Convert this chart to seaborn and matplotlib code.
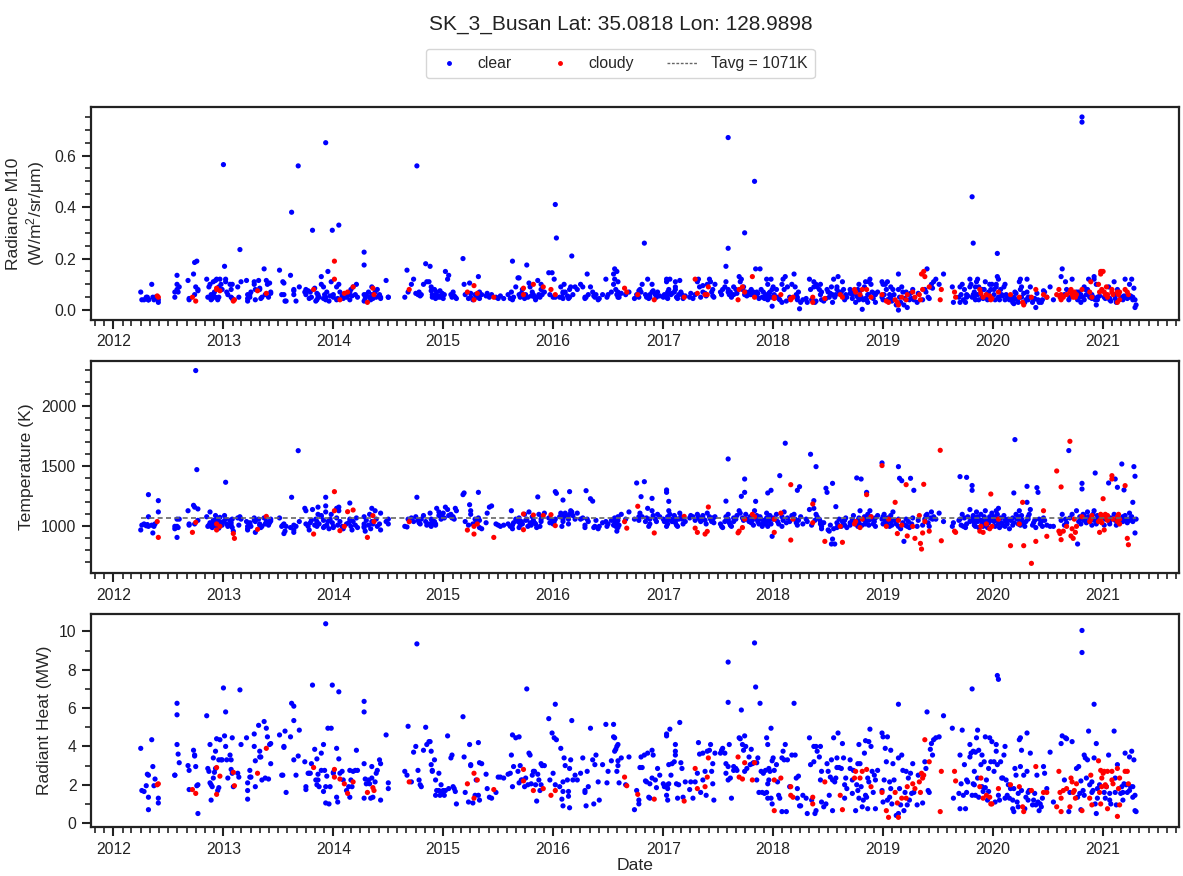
import numpy as np
import pandas as pd
import matplotlib
matplotlib.use("Agg")
import matplotlib.pyplot as plt
import matplotlib.dates as mdates
from matplotlib.ticker import MultipleLocator
from matplotlib.lines import Line2D
import seaborn as sns

# ---------------- data: (decimal year, radiance M10, temperature K, radiant heat MW) ----------------
clear_2012 = [
    (2012.25,.07,970,3.9),(2012.26,.04,1010,1.7),(2012.28,.04,1020,1.65),(2012.30,.05,1005,1.95),(2012.31,.05,1015,2.55),
    (2012.32,.04,1264,2.5),(2012.32,.04,1000,1.35),(2012.32,.04,1080,0.7),(2012.35,.10,1010,4.35),(2012.36,.05,945,2.95),
    (2012.37,.04,1000,1.95),(2012.38,.05,1020,2.3),(2012.41,.03,1214,1.3),(2012.41,.04,1120,1.05),
    (2012.56,.05,1000,2.5),(2012.56,.07,980,2.5),(2012.58,.08,908,4.1),(2012.58,.135,1060,6.25),(2012.58,.10,1000,5.65),
    (2012.59,.07,990,3.6),(2012.60,.09,1060,3.15),(2012.68,.115,1130,3.0),(2012.69,.045,1020,2.75),(2012.69,.04,1010,1.75),
    (2012.73,.14,1175,3.8),(2012.74,.185,1160,3.55),(2012.74,.06,1020,3.5),(2012.75,.09,2297,2.95),(2012.76,.19,1472,1.95),
    (2012.77,.08,1145,2.0),(2012.77,.075,1050,0.5),
    (2012.85,.12,1080,5.6),(2012.86,.05,1000,2.85),(2012.87,.09,1010,2.7),(2012.88,.10,1120,4.1),(2012.88,.05,1030,2.1),
    (2012.89,.04,1000,1.2),(2012.89,.06,1015,2.0),(2012.90,.045,990,1.9),(2012.91,.11,1050,3.4),(2012.91,.06,1020,2.35),
    (2012.92,.07,1005,2.65),(2012.93,.115,1090,3.75),(2012.93,.05,1025,2.85),(2012.94,.12,1060,4.4),(2012.95,.04,1000,1.7),
    (2012.96,.05,985,1.85),(2012.96,.09,1040,3.3),(2012.97,.12,1075,4.35),(2012.98,.10,1030,3.3),(2012.99,.08,1010,3.3),
]
cloudy_2012 = [(2012.40,.055,1040,2.0),(2012.41,.05,908,2.05),(2012.72,.05,950,1.75),(2012.75,.035,1033,1.55),
               (2012.94,.085,970,1.5),(2012.94,.08,1020,2.9),(2012.97,.075,1000,2.45)]

clear_2013 = [
    (2013.00,.565,1040,7.05),(2013.01,.17,1090,4.55),(2013.02,.12,1367,4.0),(2013.02,.11,1060,5.8),(2013.03,.07,1020,3.3),
    (2013.04,.06,1000,2.35),(2013.06,.10,1050,3.55),(2013.07,.08,1030,3.3),(2013.07,.05,1010,2.8),(2013.08,.045,990,2.6),
    (2013.08,.10,1060,4.45),(2013.09,.04,960,1.9),(2013.13,.09,1070,2.6),(2013.14,.05,1010,2.4),(2013.15,.235,1080,6.95),
    (2013.16,.11,1060,4.1),(2013.21,.115,1040,4.45),(2013.22,.035,980,1.25),(2013.22,.06,1000,2.1),(2013.22,.045,970,1.7),
    (2013.24,.06,1020,2.4),(2013.24,.05,1030,2.75),(2013.25,.07,1000,2.4),(2013.28,.11,1050,4.0),(2013.28,.10,1070,4.65),
    (2013.29,.08,1040,3.25),(2013.29,.04,950,1.9),(2013.32,.115,1060,5.1),(2013.33,.085,1020,3.75),(2013.33,.08,1010,3.45),
    (2013.34,.045,990,3.45),(2013.35,.05,1000,2.25),(2013.37,.16,1070,5.3),(2013.38,.06,1020,2.35),(2013.39,.115,1040,4.95),
    (2013.40,.10,1035,4.5),(2013.41,.05,1010,2.3),(2013.42,.105,1030,4.1),(2013.43,.065,1045,3.1),(2013.43,.07,1060,4.15),
    (2013.51,.155,1070,4.6),(2013.53,.06,1000,2.5),(2013.54,.11,1010,2.5),(2013.55,.105,1020,4.0),(2013.55,.06,940,3.95),
    (2013.56,.035,960,4.8),(2013.57,.035,1000,1.6),(2013.61,.135,990,4.5),(2013.62,.38,1242,6.25),(2013.64,.075,970,6.1),
    (2013.64,.08,1010,5.35),(2013.64,.06,950,3.3),(2013.66,.035,1000,2.5),(2013.68,.56,1630,3.5),(2013.69,.09,1040,4.85),
    (2013.74,.07,1150,3.2),(2013.75,.08,1130,1.9),(2013.75,.06,1020,1.75),(2013.77,.075,1000,2.6),(2013.78,.045,970,2.6),
    (2013.79,.07,1030,2.6),(2013.80,.05,1050,3.1),(2013.81,.31,1140,7.2),(2013.83,.085,1010,3.85),(2013.84,.035,1060,2.25),
    (2013.85,.065,1000,3.35),(2013.85,.04,1040,2.0),(2013.86,.06,1100,2.55),(2013.86,.05,1160,2.25),(2013.87,.05,1020,1.9),
    (2013.89,.10,1080,2.75),(2013.89,.13,1090,3.65),(2013.91,.045,990,1.65),(2013.91,.09,1050,4.1),(2013.92,.06,1000,2.75),
    (2013.93,.05,1242,1.9),(2013.93,.65,1170,10.4),(2013.93,.04,1120,1.05),(2013.94,.07,1010,2.45),(2013.95,.15,1040,4.95),
    (2013.96,.035,980,1.0),(2013.97,.055,1060,1.9),(2013.98,.11,1100,4.95),(2013.99,.31,1030,7.2),
]
cloudy_2013 = [(2013.09,.035,940,2.65),(2013.10,.04,900,1.95),(2013.31,.075,975,2.6),(2013.39,.065,1083,3.9),
               (2013.82,.08,936,2.9)]

clear_2014 = [
    (2014.00,.06,1000,2.6),(2014.00,.05,990,2.65),(2014.03,.09,1070,3.9),(2014.03,.04,1150,1.35),(2014.04,.045,1010,1.1),
    (2014.05,.33,1160,6.85),(2014.05,.10,1130,3.35),(2014.06,.07,1040,2.6),(2014.08,.055,1000,2.7),(2014.09,.045,980,2.25),
    (2014.12,.05,1020,1.7),(2014.14,.06,1030,1.9),(2014.15,.04,1194,1.35),(2014.15,.07,1060,2.75),(2014.16,.08,1000,2.25),
    (2014.17,.055,970,1.9),(2014.18,.09,1040,2.7),(2014.20,.06,1010,2.75),(2014.21,.10,1070,3.8),(2014.22,.05,990,2.75),
    (2014.28,.225,1080,6.35),(2014.28,.175,1020,5.8),(2014.28,.06,1000,3.1),(2014.28,.035,990,1.3),(2014.29,.045,960,2.3),
    (2014.30,.06,1050,2.05),(2014.32,.07,1010,2.25),(2014.33,.05,1100,2.05),(2014.34,.04,980,1.3),(2014.35,.09,1150,2.95),
    (2014.35,.06,1040,2.35),(2014.36,.045,1020,1.35),(2014.38,.07,1130,2.15),(2014.39,.05,1060,2.6),(2014.40,.08,1000,2.75),
    (2014.42,.06,1020,3.3),(2014.43,.045,970,3.1),(2014.43,.05,1110,1.2),(2014.48,.115,1040,4.6),(2014.50,.05,1020,2.1),
    (2014.50,.05,1060,1.8),
    (2014.65,.05,1000,2.7),(2014.67,.155,995,2.5),(2014.68,.07,1060,5.05),(2014.71,.10,1070,2.15),(2014.73,.12,1040,3.7),
    (2014.75,.065,1080,4.0),(2014.76,.56,1242,9.35),(2014.77,.06,1050,2.75),(2014.78,.07,1030,2.25),(2014.79,.055,1020,2.0),
    (2014.80,.06,1060,1.9),(2014.82,.10,1090,3.8),(2014.84,.18,1040,5.0),(2014.85,.11,1010,4.1),(2014.87,.11,1020,4.25),
    (2014.88,.17,1110,4.25),(2014.89,.09,1060,3.75),(2014.89,.075,1000,3.05),(2014.90,.06,1030,2.7),(2014.90,.05,1050,2.75),
    (2014.92,.08,1040,3.3),(2014.93,.045,1010,1.45),(2014.93,.06,1020,2.25),(2014.94,.07,1150,1.7),(2014.96,.05,1090,1.7),
    (2014.96,.055,1120,2.6),(2014.97,.075,1100,1.45),(2014.98,.05,1060,2.0),(2014.99,.065,1080,1.65),
]
cloudy_2014 = [(2014.01,.12,1130,2.4),(2014.01,.19,1289,2.8),(2014.06,.04,964,2.3),(2014.10,.065,1000,2.05),
               (2014.13,.07,1122,1.55),(2014.18,.09,1136,2.15),(2014.31,.03,908,1.6),(2014.36,.085,1089,1.85),
               (2014.37,.06,1040,1.7),(2014.69,.08,1039,2.15)]

clear_2015 = [
    (2015.00,.045,1110,1.7),(2015.01,.06,1070,1.45),(2015.02,.15,1160,1.7),(2015.04,.12,1140,4.55),(2015.05,.135,1090,1.8),
    (2015.07,.06,1100,3.4),(2015.08,.05,1070,3.55),(2015.09,.07,1080,1.9),(2015.10,.055,1060,1.8),(2015.11,.05,1150,1.65),
    (2015.12,.045,1130,1.0),(2015.18,.20,1264,5.55),(2015.19,.10,1278,3.45),(2015.20,.06,1040,1.6),(2015.23,.045,1010,1.1),
    (2015.24,.105,1180,4.1),(2015.25,.065,1130,3.05),(2015.25,.05,1100,3.0),(2015.27,.04,1020,1.05),(2015.29,.06,1060,1.45),
    (2015.30,.05,1040,2.25),(2015.32,.055,1283,1.45),(2015.32,.13,1070,4.2),(2015.33,.045,990,1.2),(2015.33,.07,1050,3.15),
    (2015.35,.06,980,3.1),(2015.39,.055,1030,2.55),(2015.40,.065,1110,1.8),(2015.42,.05,1160,1.35),(2015.44,.06,1170,1.3),
    (2015.48,.05,1020,1.6),(2015.50,.045,1010,2.4),(2015.52,.055,1000,2.4),(2015.55,.045,1010,2.35),
    (2015.59,.06,1020,2.55),(2015.61,.045,1000,2.6),(2015.62,.07,1130,3.55),(2015.63,.19,980,4.6),(2015.63,.04,1010,1.9),
    (2015.64,.05,1030,2.95),(2015.66,.09,1060,4.45),(2015.68,.125,1040,2.7),(2015.69,.125,990,4.5),(2015.69,.06,1070,2.1),
    (2015.70,.05,1010,3.0),(2015.71,.065,1040,2.25),(2015.72,.08,1020,2.25),(2015.74,.045,1100,1.9),(2015.75,.06,1050,2.35),
    (2015.76,.175,1060,7.0),(2015.77,.05,1000,2.0),(2015.78,.105,1120,3.65),(2015.79,.09,1030,3.55),(2015.80,.055,1010,2.05),
    (2015.81,.07,1080,2.5),(2015.82,.06,1050,2.7),(2015.83,.05,1030,2.7),(2015.84,.04,1020,2.0),(2015.85,.05,990,1.15),
    (2015.86,.115,1245,2.55),(2015.87,.06,1100,2.25),(2015.88,.05,1000,1.7),(2015.89,.08,1060,2.0),(2015.89,.10,1040,3.1),
    (2015.90,.06,1080,3.0),(2015.92,.07,1110,3.0),(2015.96,.145,1070,5.45),(2015.97,.06,1030,2.25),(2015.99,.145,1050,4.7),
]
cloudy_2015 = [(2015.22,.07,969,2.05),(2015.28,.095,1000,2.6),(2015.28,.04,936,1.3),(2015.31,.065,1020,2.25),
               (2015.46,.05,908,1.75),(2015.73,.085,972,2.8),(2015.73,.06,1103,2.2),(2015.82,.10,1094,1.7),
               (2015.91,.09,1090,1.8),(2015.98,.08,1097,1.45)]

clear_2016 = [
    (2016.00,.05,1020,2.6),(2016.01,.12,1040,4.45),(2016.02,.05,1060,2.0),(2016.02,.41,1289,6.2),(2016.03,.28,1275,4.35),
    (2016.06,.05,1080,1.9),(2016.07,.09,1110,3.9),(2016.08,.05,1000,1.25),(2016.09,.065,1219,1.65),(2016.09,.045,1040,0.9),
    (2016.09,.07,1060,2.15),(2016.10,.10,1090,3.4),(2016.11,.07,1110,3.0),(2016.13,.055,1080,2.25),(2016.14,.05,1020,1.65),
    (2016.14,.045,1060,1.4),(2016.15,.05,1100,0.8),(2016.15,.08,1289,2.85),(2016.16,.09,1130,3.3),(2016.17,.21,1120,5.35),
    (2016.18,.06,1090,2.25),(2016.20,.09,1060,2.5),(2016.22,.08,1110,2.25),(2016.25,.10,1060,2.6),(2016.27,.09,1070,3.4),
    (2016.29,.05,990,1.7),(2016.29,.045,1010,1.6),(2016.30,.05,1297,0.9),(2016.31,.14,1060,2.7),(2016.32,.06,1040,1.9),
    (2016.34,.09,1230,4.95),(2016.36,.07,1210,3.3),(2016.37,.055,990,1.0),(2016.38,.05,1000,3.05),(2016.39,.06,1050,3.55),
    (2016.41,.04,980,2.15),(2016.42,.045,1000,1.2),
    (2016.45,.06,1030,3.05),(2016.48,.12,1040,5.15),(2016.49,.05,1000,2.1),(2016.50,.06,1020,2.7),(2016.53,.07,1050,3.25),
    (2016.55,.10,1060,5.15),(2016.55,.14,1010,4.5),(2016.56,.16,1040,4.45),(2016.56,.12,1070,3.75),(2016.57,.08,1000,3.85),
    (2016.58,.15,960,4.0),(2016.58,.06,1030,2.7),(2016.59,.05,990,3.0),(2016.59,.11,1050,4.1),(2016.59,.07,1080,3.25),
    (2016.60,.05,1010,2.1),(2016.62,.065,1100,3.4),(2016.66,.06,1060,2.0),(2016.69,.07,1120,3.45),(2016.74,.045,1060,0.7),
    (2016.76,.06,1361,1.7),(2016.78,.05,1080,1.0),(2016.78,.075,1050,1.2),(2016.79,.08,1110,2.9),(2016.80,.07,1247,3.45),
    (2016.81,.10,1080,2.9),(2016.83,.26,1372,3.55),(2016.84,.06,1040,2.2),(2016.85,.05,1070,2.15),(2016.86,.12,1150,3.65),
    (2016.87,.045,1000,1.35),(2016.88,.05,1060,1.3),(2016.88,.06,1020,2.05),(2016.90,.07,1233,2.35),(2016.90,.10,1130,3.8),
    (2016.91,.075,1090,3.55),(2016.93,.06,1060,2.25),(2016.94,.05,1040,1.85),(2016.95,.07,1100,2.85),(2016.97,.055,1080,2.5),
]
cloudy_2016 = [(2016.02,.06,1006,1.7),(2016.65,.085,1039,2.4),(2016.67,.07,985,1.95),(2016.77,.06,1167,1.5),
               (2016.92,.04,945,1.25)]

clear_2017 = [
    (2017.00,.05,1060,2.05),(2017.01,.06,1040,1.9),(2017.03,.11,1283,4.55),(2017.03,.12,1303,4.65),(2017.03,.05,1000,1.45),
    (2017.04,.045,1020,1.2),(2017.04,.06,1080,1.8),(2017.04,.07,1050,2.0),(2017.05,.065,1208,2.05),(2017.05,.08,1130,3.05),
    (2017.06,.12,1100,4.9),(2017.07,.06,1060,2.5),(2017.08,.065,1040,3.1),(2017.10,.07,1090,3.2),(2017.11,.11,1070,4.1),
    (2017.11,.09,1050,3.75),(2017.11,.08,1030,3.55),(2017.12,.05,1010,2.05),(2017.13,.045,1000,1.3),(2017.14,.06,1060,2.0),
    (2017.15,.115,1110,5.25),(2017.16,.07,1080,3.15),(2017.17,.06,1060,2.85),(2017.18,.045,1020,1.35),(2017.20,.055,1040,2.15),
    (2017.24,.05,1070,1.75),(2017.25,.065,1090,2.15),(2017.27,.045,1080,1.3),(2017.29,.06,1050,2.15),(2017.31,.11,1100,2.6),
    (2017.32,.12,1080,4.2),(2017.33,.09,1060,3.6),(2017.34,.05,1040,1.6),(2017.36,.07,1070,2.25),(2017.36,.095,1090,3.65),
    (2017.38,.065,1050,2.7),(2017.39,.055,1020,1.45),(2017.40,.10,1110,3.75),(2017.42,.12,1080,3.8),(2017.43,.11,1060,4.1),
    (2017.44,.07,1040,2.7),(2017.45,.08,1070,3.1),(2017.45,.055,1060,2.05),(2017.46,.05,1030,1.2),(2017.47,.10,1080,3.65),
    (2017.52,.07,1020,3.65),(2017.53,.06,1000,3.8),(2017.54,.08,990,3.9),(2017.56,.09,1040,3.65),(2017.57,.17,1080,3.1),
    (2017.57,.11,1210,2.6),(2017.59,.07,1060,2.25),(2017.59,.67,1561,8.4),(2017.59,.24,1100,6.3),(2017.59,.08,1050,2.95),
    (2017.60,.06,1030,4.1),(2017.61,.07,1010,2.35),(2017.62,.05,1000,1.3),(2017.64,.09,1070,2.95),(2017.64,.06,1040,2.75),
    (2017.66,.08,1060,2.85),(2017.67,.065,1090,2.75),(2017.69,.13,1130,4.45),(2017.70,.11,1110,4.4),(2017.71,.12,1250,5.9),
    (2017.72,.08,1070,4.1),(2017.73,.09,1050,3.8),(2017.74,.30,1394,4.55),(2017.74,.06,1283,2.7),(2017.75,.07,1100,4.0),
    (2017.76,.055,1060,2.85),(2017.78,.07,1040,3.45),(2017.79,.06,1080,3.05),(2017.80,.08,1030,3.85),(2017.81,.06,1050,3.1),
    (2017.82,.07,1010,3.15),(2017.83,.50,1130,9.4),(2017.84,.16,1208,7.1),(2017.85,.06,1060,2.25),(2017.85,.07,1090,3.15),
    (2017.86,.065,1040,3.4),(2017.87,.045,1020,1.6),(2017.88,.16,1080,6.25),(2017.89,.08,1060,2.7),(2017.90,.05,1000,1.6),
    (2017.91,.07,1030,2.6),(2017.92,.045,1050,1.55),(2017.93,.06,1020,2.75),(2017.94,.05,1070,1.6),(2017.94,.12,1110,4.45),
    (2017.95,.10,1278,4.1),(2017.95,.05,1040,2.05),(2017.95,.04,1000,1.3),(2017.96,.065,1080,2.85),(2017.96,.06,1050,2.25),
    (2017.97,.07,1090,2.7),(2017.98,.12,1300,4.95),(2017.98,.05,1020,1.3),(2017.99,.08,1060,3.25),(2017.99,.015,917,1.0),
]
cloudy_2017 = [(2017.19,.05,1083,1.15),(2017.29,.12,985,2.85),(2017.31,.065,950,1.8),(2017.38,.06,936,1.9),
               (2017.40,.06,958,2.4),(2017.41,.09,1161,3.4),(2017.68,.04,946,3.45),(2017.69,.08,960,2.4),
               (2017.72,.09,990,2.3),(2017.74,.07,1060,3.15),(2017.81,.13,1100,2.25),(2017.83,.05,1080,3.15)]

clear_2018 = [
    (2018.00,.09,1070,3.4),(2018.01,.06,1060,2.75),(2018.03,.08,1100,3.05),(2018.04,.05,1040,2.15),(2018.05,.045,1020,1.45),
    (2018.06,.04,1422,1.3),(2018.08,.03,1000,0.6),(2018.08,.10,1080,3.4),(2018.09,.12,1050,3.75),(2018.10,.08,1120,3.3),
    (2018.11,.13,1692,4.1),(2018.12,.035,1030,0.6),(2018.13,.09,1070,3.3),(2018.15,.05,1040,1.9),(2018.17,.10,1090,3.55),
    (2018.19,.14,1100,6.25),(2018.20,.09,1060,3.55),(2018.21,.06,1030,2.35),(2018.22,.04,1010,1.3),(2018.22,.05,1300,1.8),
    (2018.23,.07,1050,2.45),(2018.24,.005,1330,0.9),(2018.25,.03,1080,0.9),(2018.27,.04,1020,1.45),(2018.30,.045,1060,1.3),
    (2018.31,.03,1040,0.5),(2018.33,.12,1140,4.45),(2018.34,.08,1600,3.05),(2018.35,.04,1010,1.2),(2018.37,.09,1214,3.2),
    (2018.37,.11,1150,4.0),(2018.38,.03,1050,0.5),(2018.39,.035,1497,0.65),(2018.39,.10,1100,4.0),(2018.40,.09,1080,3.75),
    (2018.42,.08,1060,3.45),(2018.43,.10,1040,4.0),(2018.43,.06,1020,2.25),(2018.44,.07,1000,2.7),(2018.44,.04,980,1.1),
    (2018.46,.035,1030,0.85),(2018.48,.045,1317,1.0),(2018.49,.08,1283,3.1),(2018.50,.07,970,2.7),(2018.51,.05,960,1.45),
    (2018.52,.065,1010,2.4),(2018.53,.09,853,3.3),(2018.54,.03,1358,0.65),(2018.54,.06,894,2.25),(2018.55,.12,980,4.45),
    (2018.56,.05,853,2.15),(2018.57,.06,1164,2.35),(2018.58,.08,990,2.9),(2018.58,.09,1030,3.4),(2018.59,.13,1010,4.7),
    (2018.60,.07,1060,2.9),(2018.62,.07,1000,2.85),(2018.63,.11,1040,4.15),(2018.64,.08,1020,3.4),(2018.65,.05,1050,2.0),
    (2018.65,.04,1010,1.3),(2018.66,.06,1070,2.35),(2018.67,.05,990,1.8),(2018.70,.08,1030,3.3),(2018.70,.065,1010,2.85),
    (2018.72,.06,1060,2.25),(2018.72,.045,1040,1.55),(2018.73,.07,1090,2.75),(2018.75,.03,1020,0.65),(2018.76,.055,1403,2.0),
    (2018.77,.08,1050,3.1),(2018.77,.05,1000,1.7),(2018.78,.10,1030,4.1),(2018.78,.04,1070,1.3),(2018.79,.075,1130,3.1),
    (2018.80,.05,1394,1.9),(2018.81,.003,1010,0.85),(2018.82,.04,1060,1.2),(2018.83,.09,1080,3.65),(2018.84,.11,1040,4.3),
    (2018.84,.045,1020,1.45),(2018.85,.04,1283,1.35),(2018.86,.03,1060,0.75),(2018.86,.06,1100,2.35),(2018.87,.11,1050,4.25),
    (2018.87,.06,1010,2.15),(2018.88,.12,1130,4.9),(2018.89,.10,1080,4.0),(2018.90,.07,1060,2.7),(2018.91,.045,1020,1.6),
    (2018.92,.065,1040,2.5),(2018.93,.03,1000,0.75),(2018.93,.06,1070,2.25),(2018.95,.07,1090,2.75),(2018.99,.05,1060,1.7),
    (2018.99,.11,1528,4.7),
]
cloudy_2018 = [(2018.01,.05,950,2.25),(2018.01,.045,1060,0.65),(2018.07,.06,1110,2.35),(2018.16,.04,886,1.45),
               (2018.16,.045,1347,1.9),(2018.18,.05,1060,1.35),(2018.36,.03,1186,1.0),(2018.36,.05,1030,1.35),
               (2018.47,.045,875,2.15),(2018.61,.06,1000,1.45),(2018.63,.05,867,0.7),(2018.74,.08,1020,2.35),
               (2018.75,.07,1040,2.7),(2018.79,.06,990,2.35),(2018.81,.08,1060,2.7),(2018.85,.08,1264,2.8),
               (2018.89,.05,1080,1.9),(2018.99,.06,1506,1.6)]

clear_2019 = [
    (2019.00,.10,1080,4.5),(2019.00,.04,1020,1.1),(2019.01,.06,1100,2.25),(2019.02,.10,1050,3.9),(2019.03,.08,1030,3.2),
    (2019.04,.11,1070,4.5),(2019.04,.04,1010,1.2),(2019.06,.045,1000,1.35),(2019.06,.06,1060,2.15),(2019.07,.05,1040,1.8),
    (2019.07,.09,1090,3.8),(2019.08,.035,1010,1.0),(2019.09,.08,1120,3.1),(2019.10,.06,1050,2.25),(2019.12,.02,1020,0.4),
    (2019.14,.14,1497,6.2),(2019.14,.00,1000,0.5),(2019.14,.08,1060,3.4),(2019.15,.05,1400,1.8),(2019.16,.03,980,0.95),
    (2019.17,.09,1380,3.55),(2019.18,.07,1030,2.75),(2019.19,.02,875,0.65),(2019.20,.045,1010,1.6),(2019.21,.07,1060,2.7),
    (2019.22,.01,1000,0.95),(2019.23,.06,1040,2.35),(2019.24,.04,990,1.2),(2019.25,.065,1400,2.6),(2019.26,.045,1020,1.55),
    (2019.27,.08,1070,3.1),(2019.28,.04,1300,1.6),(2019.31,.03,1000,0.95),(2019.32,.065,1050,2.5),(2019.36,.04,1010,1.05),
    (2019.38,.08,1060,3.2),(2019.39,.07,1090,2.85),(2019.40,.16,1100,5.8),(2019.41,.05,1030,1.7),(2019.42,.045,1000,1.6),
    (2019.43,.09,1070,3.85),(2019.44,.10,1120,4.15),(2019.45,.085,1060,3.55),(2019.46,.11,1080,4.35),(2019.48,.12,1060,4.45),
    (2019.51,.10,1110,4.5),(2019.55,.14,1040,5.6),
    (2019.63,.09,1000,4.95),(2019.64,.03,1030,1.3),(2019.69,.05,1050,1.55),(2019.70,.03,1414,0.75),(2019.70,.09,1060,3.55),
    (2019.71,.06,1010,2.05),(2019.72,.10,1100,4.85),(2019.73,.04,1000,1.45),(2019.74,.08,1070,3.05),(2019.75,.03,990,0.75),
    (2019.76,.06,1408,2.25),(2019.76,.05,1020,1.6),(2019.77,.055,1080,2.15),(2019.79,.09,1040,3.45),(2019.79,.12,1140,4.1),
    (2019.80,.10,1060,3.65),(2019.81,.44,1300,7.0),(2019.81,.05,1340,1.45),(2019.82,.26,1090,3.75),(2019.82,.06,1050,2.05),
    (2019.83,.07,1030,2.7),(2019.83,.05,1010,2.0),(2019.84,.09,1070,3.7),(2019.84,.04,1000,1.45),(2019.85,.11,1120,4.45),
    (2019.86,.12,1080,4.85),(2019.86,.06,1040,2.35),(2019.87,.04,990,1.35),(2019.87,.09,1060,3.8),(2019.89,.075,1100,3.05),
    (2019.90,.05,1020,1.9),(2019.90,.08,1050,3.55),(2019.91,.045,1000,1.65),(2019.92,.08,1080,3.2),(2019.93,.11,1130,4.5),
    (2019.93,.05,1040,1.85),(2019.94,.06,1010,2.25),(2019.95,.04,990,1.2),(2019.96,.045,1060,1.65),(2019.96,.07,1030,2.85),
    (2019.97,.10,1080,4.45),(2019.98,.08,1050,3.2),(2019.99,.10,1110,4.25),
]
cloudy_2019 = [(2019.03,.035,1000,0.65),(2019.05,.03,1060,0.3),(2019.11,.04,1200,1.6),(2019.13,.03,940,1.05),
               (2019.14,.02,1050,0.3),(2019.17,.05,1010,1.3),(2019.21,.04,1347,1.3),(2019.22,.06,920,1.9),
               (2019.27,.07,1000,2.05),(2019.29,.05,900,1.8),(2019.33,.06,1090,2.15),(2019.34,.04,858,1.6),
               (2019.35,.14,811,2.6),(2019.36,.08,945,2.35),(2019.37,.15,1350,2.5),(2019.38,.13,1040,4.35),
               (2019.42,.09,960,3.2),(2019.52,.04,1633,0.6),(2019.53,.08,880,2.7),(2019.65,.07,960,2.7),
               (2019.66,.05,950,2.2),(2019.88,.08,960,1.9),(2019.89,.065,1000,2.35),(2019.91,.05,950,1.3),
               (2019.94,.06,1020,1.45),(2019.97,.055,980,1.35),(2019.98,.04,1269,1.0),(2019.99,.045,1000,1.0)]

clear_2020 = [
    (2020.01,.06,1040,2.7),(2020.01,.08,1080,3.2),(2020.02,.04,1000,1.1),(2020.03,.10,1130,4.1),(2020.03,.09,1060,3.75),
    (2020.04,.22,1100,3.05),(2020.04,.13,1050,7.7),(2020.05,.12,1150,7.5),(2020.05,.05,1020,1.45),(2020.06,.04,990,1.2),
    (2020.07,.08,1070,3.2),(2020.08,.06,1030,2.35),(2020.09,.055,1010,2.35),(2020.10,.09,1090,3.55),(2020.11,.10,1060,4.0),
    (2020.11,.04,1000,1.3),(2020.12,.06,1040,2.25),(2020.13,.045,1020,1.45),(2020.14,.05,1060,2.0),(2020.15,.04,980,1.3),
    (2020.16,.05,1050,1.8),(2020.18,.03,1010,0.75),(2020.18,.04,1070,1.2),(2020.19,.025,1030,0.6),(2020.19,.05,1278,1.8),
    (2020.20,.07,1722,2.85),(2020.21,.065,1100,2.5),(2020.22,.04,1060,1.1),(2020.23,.03,1020,0.85),(2020.23,.045,1080,1.55),
    (2020.24,.11,1130,4.35),(2020.25,.12,1040,4.45),(2020.25,.08,1010,2.95),(2020.26,.05,1060,1.7),(2020.26,.09,1090,3.8),
    (2020.28,.065,1030,2.5),(2020.29,.03,1000,0.75),(2020.30,.04,1040,1.35),(2020.31,.12,1200,4.7),(2020.31,.07,1333,2.7),
    (2020.32,.04,1060,1.2),(2020.32,.05,1080,1.6),(2020.33,.05,1100,1.7),(2020.34,.09,1140,3.65),(2020.36,.03,1010,0.95),
    (2020.37,.04,1030,1.2),(2020.38,.045,1050,1.55),(2020.39,.01,990,0.95),(2020.40,.065,1322,2.5),(2020.41,.04,1283,1.1),
    (2020.42,.03,1060,0.65),(2020.43,.035,1020,1.0),(2020.44,.03,1040,0.85),(2020.45,.04,1000,1.3),(2020.46,.075,1070,2.95),
    (2020.47,.07,1050,2.6),(2020.49,.05,1010,1.8),(2020.52,.09,1000,3.7),(2020.55,.04,1000,1.1),
    (2020.62,.13,1050,4.15),(2020.63,.16,1100,4.55),(2020.65,.06,1010,2.25),(2020.66,.11,1060,4.45),(2020.67,.08,1030,4.4),
    (2020.69,.04,1631,0.6),(2020.70,.05,1070,1.6),(2020.72,.12,1100,4.25),(2020.76,.07,1130,2.85),(2020.77,.04,853,1.35),
    (2020.78,.07,1040,2.95),(2020.79,.05,1080,1.55),(2020.80,.06,1060,2.2),(2020.80,.03,1020,0.7),(2020.81,.75,1358,10.05),
    (2020.81,.73,1311,8.9),(2020.82,.05,1100,1.7),(2020.83,.04,1050,1.45),(2020.83,.09,1090,3.55),(2020.84,.08,1060,3.4),
    (2020.85,.06,1030,2.35),(2020.86,.08,1120,3.3),(2020.87,.12,1080,4.8),(2020.88,.05,1040,2.0),(2020.90,.045,1010,1.6),
    (2020.90,.06,1070,2.15),(2020.91,.05,1100,1.7),(2020.92,.13,1050,3.4),(2020.92,.12,1130,6.2),(2020.93,.04,1444,1.0),
    (2020.94,.10,1060,4.15),(2020.94,.02,1020,0.5),(2020.95,.05,1090,1.8),(2020.95,.04,1040,1.3),(2020.97,.055,1080,2.0),
]
cloudy_2020 = [(2020.05,.07,1060,1.8),(2020.16,.06,839,2.0),(2020.24,.05,1020,1.9),(2020.27,.03,1200,0.85),
               (2020.28,.02,839,0.6),(2020.35,.05,692,1.7),(2020.39,.08,875,2.95),(2020.46,.06,1130,1.6),
               (2020.49,.05,917,1.6),(2020.58,.06,1461,0.85),(2020.60,.08,960,2.7),(2020.61,.05,940,1.6),
               (2020.62,.06,1328,1.3),(2020.62,.04,889,0.6),(2020.64,.05,960,1.7),(2020.67,.06,1000,1.8),
               (2020.70,.07,1708,0.85),(2020.71,.08,920,2.35),(2020.72,.06,980,2.15),(2020.73,.05,900,1.6),
               (2020.74,.07,1060,1.7),(2020.75,.05,950,1.3),(2020.76,.06,1000,2.05),(2020.81,.08,1080,0.65),
               (2020.88,.07,1040,1.3),(2020.89,.11,1060,2.5),(2020.90,.05,1090,0.95),(2020.96,.10,1040,3.25),
               (2020.97,.07,950,1.6),(2020.98,.15,1100,1.0),(2020.98,.14,1060,2.75),(2020.99,.15,1090,2.35),
               (2020.99,.08,1030,1.9)]

clear_2021 = [
    (2021.01,.05,1010,1.6),(2021.02,.045,1060,1.3),(2021.03,.05,1090,1.9),(2021.05,.09,1361,3.55),(2021.06,.045,1040,1.55),
    (2021.06,.04,1020,1.2),(2021.07,.035,1070,1.0),(2021.10,.11,1100,4.8),(2021.11,.045,1394,1.6),(2021.11,.06,1050,2.35),
    (2021.12,.03,1010,0.95),(2021.13,.08,1325,3.05),(2021.16,.045,1060,1.55),(2021.17,.05,1519,1.9),(2021.18,.04,1080,1.2),
    (2021.18,.045,1040,1.6),(2021.19,.055,1303,2.05),(2021.20,.12,1090,3.65),(2021.21,.05,1060,2.0),(2021.22,.045,1030,1.6),
    (2021.24,.10,1110,3.45),(2021.24,.05,1050,1.7),(2021.25,.055,1070,1.9),(2021.26,.12,1080,3.75),(2021.27,.04,1200,1.35),
    (2021.27,.05,1040,1.9),(2021.28,.085,1497,3.3),(2021.29,.04,1417,1.45),(2021.29,.01,945,0.65),(2021.30,.02,1060,0.6),
]
cloudy_2021 = [(2021.00,.15,1230,2.6),(2021.01,.07,970,2.7),(2021.02,.06,1100,2.0),(2021.03,.09,1070,1.9),
               (2021.04,.05,1050,0.75),(2021.04,.06,1090,2.7),(2021.08,.07,1422,2.25),(2021.08,.08,1394,2.7),
               (2021.09,.06,1060,2.05),(2021.13,.07,1040,2.85),(2021.13,.03,1080,0.35),(2021.14,.06,1100,1.8),
               (2021.15,.04,1020,0.95),(2021.15,.07,1060,2.35),(2021.20,.08,1339,2.7),(2021.22,.07,900,2.7),
               (2021.23,.06,847,2.05)]

T_AVG = 1071
TITLE = "SK_3_Busan Lat: 35.0818 Lon: 128.9898"
LEGEND_LABELS = ["clear", "cloudy", "Tavg = 1071K"]
Y_LABELS = ["Radiance M10\n(W/m$^2$/sr/\u03bcm)", "Temperature (K)", "Radiant Heat (MW)"]

# ---------------- build tables ----------------
clear_rows = (clear_2012 + clear_2013 + clear_2014 + clear_2015 + clear_2016 +
              clear_2017 + clear_2018 + clear_2019 + clear_2020 + clear_2021)
cloudy_rows = (cloudy_2012 + cloudy_2013 + cloudy_2014 + cloudy_2015 + cloudy_2016 +
               cloudy_2017 + cloudy_2018 + cloudy_2019 + cloudy_2020 + cloudy_2021)
cols = ["year", "radiance", "temperature", "heat"]
clear = pd.DataFrame(clear_rows, columns=cols); clear["sky"] = "clear"
cloudy = pd.DataFrame(cloudy_rows, columns=cols); cloudy["sky"] = "cloudy"
df = pd.concat([clear, cloudy], ignore_index=True)


def dec_to_date(y):
    yi = int(np.floor(y))
    return pd.Timestamp(yi, 1, 1) + pd.to_timedelta((y - yi) * 365.25, unit="D")


df["date"] = df["year"].apply(dec_to_date)

# ---------------- style ----------------
sns.set_style("ticks")
plt.rcParams["font.family"] = ["Liberation Sans", "DejaVu Sans"]
plt.rcParams["mathtext.fontset"] = "custom"
plt.rcParams["mathtext.rm"] = "Liberation Sans"
plt.rcParams["mathtext.it"] = "Liberation Sans:italic"

fig = plt.figure(figsize=(11.83, 8.76), dpi=100)
left, width = 0.0769, 0.9197
boxes = [(0.635, 0.2425), (0.3459, 0.2421), (0.0559, 0.2431)]
palette = {"clear": "#0000ff", "cloudy": "#ff0000"}
ycols = ["radiance", "temperature", "heat"]
xmin, xmax = pd.Timestamp("2011-10-19"), pd.Timestamp("2021-09-10")

axes = []
for i, (bottom, h) in enumerate(boxes):
    ax = fig.add_axes([left, bottom, width, h])
    sns.scatterplot(data=df, x="date", y=ycols[i], hue="sky", palette=palette,
                    s=14, linewidth=0, ax=ax, legend=False)
    ax.set_xlim(xmin, xmax)
    ax.xaxis.set_major_locator(mdates.YearLocator())
    ax.xaxis.set_major_formatter(mdates.DateFormatter("%Y"))
    ax.xaxis.set_minor_locator(mdates.MonthLocator())
    ax.set_ylabel(Y_LABELS[i], fontsize=12.6, labelpad=5)
    ax.set_xlabel("Date" if i == 2 else "", fontsize=12.6, labelpad=1)
    ax.tick_params(which="major", length=6.5, width=1.5, labelsize=11.3, color="#222222",
                   labelcolor="#222222", pad=4)
    ax.tick_params(which="minor", length=4, width=1.2, color="#222222")
    for sp in ax.spines.values():
        sp.set_linewidth(1.6)
        sp.set_color("#222222")
    axes.append(ax)

axes[0].yaxis.set_major_locator(MultipleLocator(0.2))
axes[0].yaxis.set_minor_locator(MultipleLocator(0.05))
axes[1].yaxis.set_major_locator(MultipleLocator(500))
axes[1].yaxis.set_minor_locator(MultipleLocator(100))
axes[2].yaxis.set_major_locator(MultipleLocator(2))
axes[2].yaxis.set_minor_locator(MultipleLocator(1))

dmin, dmax = df["date"].min(), df["date"].max()
axes[1].plot([dmin, dmax], [T_AVG, T_AVG], color="#666666", ls="--", lw=1.2, dashes=(3, 2), zorder=1)

fig.text(0.525, 1 - 29.5 / 876, TITLE, ha="center", va="baseline", fontsize=15, color="#222222")
handles = [Line2D([], [], marker="o", ls="", color=palette["clear"], markersize=2.5),
           Line2D([], [], marker="o", ls="", color=palette["cloudy"], markersize=2.5),
           Line2D([], [], color="#666666", ls="--", lw=1, dashes=(2, 1.2))]
fig.legend(handles, LEGEND_LABELS, loc="center", bbox_to_anchor=(0.5245, 0.9275), ncol=3,
           fontsize=11.3, frameon=True, handlelength=2.0, handletextpad=0.8, columnspacing=2.1,
           edgecolor="#cccccc", fancybox=True, borderpad=0.45)

fig.savefig("out.png", dpi=100)
